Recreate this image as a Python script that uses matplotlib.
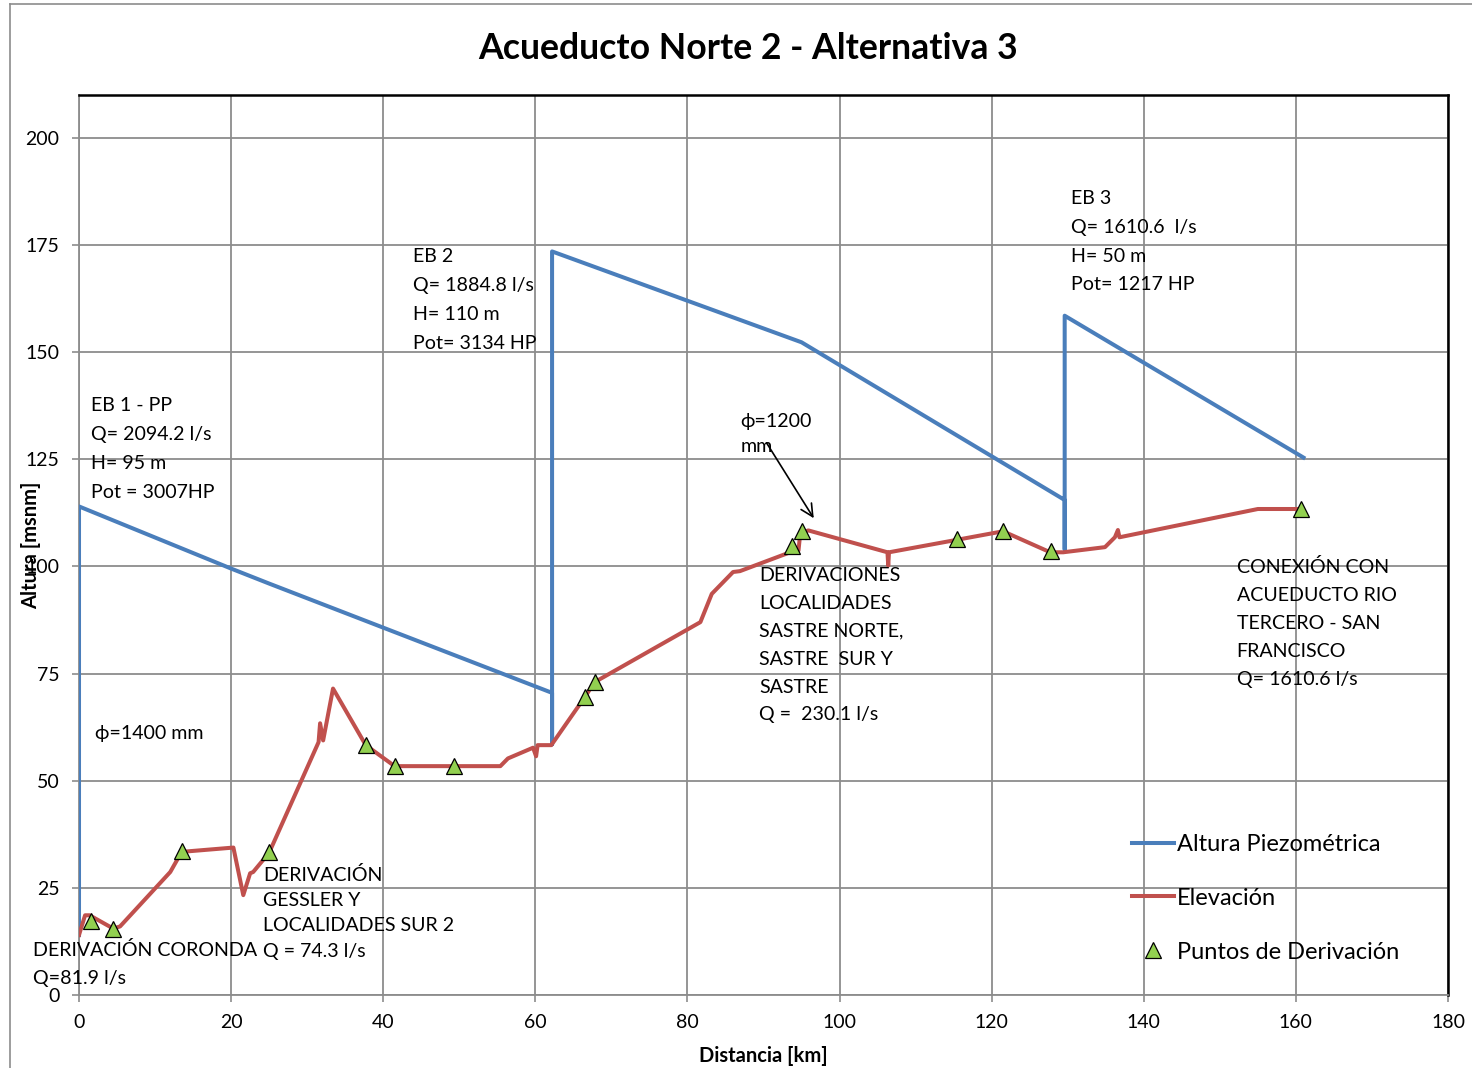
import matplotlib
matplotlib.use("Agg")
import matplotlib.pyplot as plt
from matplotlib.lines import Line2D

plt.rcParams["font.family"] = ["Lato", "DejaVu Sans"]

C_PIEZO = "#4A7EBB"
C_ELEV = "#C0504D"
C_MARK = "#92D050"
C_GRID = "#8C8C8C"

# piezometric head [msnm] along the line [km]
piezo_km = [0, 0, 20, 25, 62.2, 62.2, 62.2, 95, 129.6, 129.6, 129.6, 161]
piezo_h = [14, 114, 99.5, 96, 70.5, 58.5, 173.5, 152.3, 115.5, 104, 158.5, 125.4]

# ground elevation profile
elev_km = [0, 0.8, 1.4, 4.5, 5.4, 12, 13.5, 20.3, 21.6, 22.5, 22.9, 25, 31.5, 31.7,
           32.1, 33.4, 37.7, 41.5, 55.4, 56.4, 59.7, 60.1, 60.3, 62.1, 66.5, 67.8,
           81.7, 83.2, 86.0, 86.9, 93.5, 94.6, 94.8, 95.2, 95.9, 106.3, 106.4, 106.5,
           115.4, 121.5, 127.7, 129.4, 134.9, 136.2, 136.6, 136.8, 155.0, 160.7]
elev_h = [14, 18.6, 18.6, 15.5, 16, 28.7, 33.4, 34.4, 23.3, 28.4, 28.7, 33.2, 59, 63.4,
          59.4, 71.5, 58.3, 53.4, 53.4, 55.2, 57.7, 55.7, 58.3, 58.3, 69.5, 73,
          87, 93.6, 98.7, 98.9, 103.3, 103.7, 107.2, 108, 108.4, 103.3, 100.2, 103.3,
          106.2, 108.2, 103.3, 103.3, 104.5, 106.8, 108.5, 106.8, 113.4, 113.4]

# branch-off points
deriv_km = [1.6, 4.5, 13.5, 25, 37.7, 41.5, 49.3, 66.5, 67.8, 93.7, 95.1, 115.4, 121.5, 127.8, 160.7]
deriv_h = [17.2, 15.5, 33.5, 33.3, 58.3, 53.5, 53.5, 69.5, 73, 104.8, 108.2, 106.5, 108.3, 103.5, 113.5]

fig = plt.figure(figsize=(14.72, 10.68), dpi=100)
ax = fig.add_axes([79 / 1472, 73 / 1068, 1369 / 1472, 900 / 1068])

ax.plot(piezo_km, piezo_h, color=C_PIEZO, lw=2.9, label="Altura Piezométrica", zorder=3)
ax.plot(elev_km, elev_h, color=C_ELEV, lw=2.9, label="Elevación", zorder=4)
ax.plot(deriv_km, deriv_h, ls="none", marker="^", ms=11, mfc=C_MARK, mec="black",
        mew=0.9, label="Puntos de Derivación", zorder=5)

ax.set_xlim(0, 180)
ax.set_ylim(0, 210)
ax.set_xticks(range(0, 181, 20))
ax.set_yticks(range(0, 201, 25))
ax.grid(True, color=C_GRID, lw=1.3)
ax.set_axisbelow(True)
ax.tick_params(direction="out", length=5, width=1.2, color=C_GRID, labelsize=14, pad=9)
for s in ("left", "bottom"):
    ax.spines[s].set_color(C_GRID)
    ax.spines[s].set_linewidth(1.3)
for s in ("top", "right"):
    ax.spines[s].set_color("black")
    ax.spines[s].set_linewidth(1.8)

ax.set_xlabel("Distancia [km]", fontsize=14.5, fontweight="bold")
ax.set_ylabel("Altura [msnm]", fontsize=14.5, fontweight="bold")
ax.xaxis.set_label_coords(0.5, -0.057)
ax.yaxis.set_label_coords(-0.028, 0.5)

fig.text(0.508, 0.955, "Acueducto Norte 2 - Alternativa 3", ha="center", va="center",
         fontsize=25.7, fontweight="bold")

fs = 14.1
notes = [
    (1.58, 139.5, 1.86, "EB 1 - PP\nQ= 2094.2 l/s\nH= 95 m\nPot = 3007HP"),
    (43.9, 174.2, 1.84, "EB 2\nQ= 1884.8 l/s\nH= 110 m\nPot= 3134 HP"),
    (130.4, 187.8, 1.84, "EB 3\nQ= 1610.6  l/s\nH= 50 m\nPot= 1217 HP"),
    (87.0, 135.8, 1.6, "ϕ=1200\nmm"),
    (89.4, 99.9, 1.78, "DERIVACIONES\nLOCALIDADES\nSASTRE NORTE,\nSASTRE  SUR Y\nSASTRE\nQ =  230.1 l/s"),
    (152.2, 102.0, 1.78, "CONEXIÓN CON\nACUEDUCTO RIO\nTERCERO - SAN\nFRANCISCO\nQ= 1610.6 l/s"),
    (24.2, 30.2, 1.6, "DERIVACIÓN\nGESSLER Y\nLOCALIDADES SUR 2\nQ = 74.3 l/s"),
    (-6.05, 12.5, 1.74, "DERIVACIÓN CORONDA\nQ=81.9 l/s"),
]
for x, y, lsp, t in notes:
    ax.text(x, y, t, ha="left", va="top", fontsize=fs, linespacing=lsp, clip_on=False, zorder=6)
ax.text(2.1, 61.1, "ϕ=1400 mm", ha="left", va="center", fontsize=fs, zorder=6)

ax.annotate("", xy=(96.8, 110.7), xytext=(90.2, 129.4),
            arrowprops=dict(arrowstyle="->", color="black", lw=1.2, mutation_scale=22))

ax.legend(loc="upper left", bbox_to_anchor=(0.769, 0.179), frameon=False, fontsize=17,
          handlelength=1.8, handletextpad=0.1, labelspacing=1.39, borderpad=0,
          borderaxespad=0)

# outer chart border (left and top edges visible)
fig.add_artist(Line2D([10 / 1472, 10 / 1472], [0, 1 - 4 / 1068], color="#8C8C8C", lw=1.2))
fig.add_artist(Line2D([10 / 1472, 1], [1 - 4 / 1068, 1 - 4 / 1068], color="#8C8C8C", lw=1.2))

fig.savefig("out.png", dpi=100)
